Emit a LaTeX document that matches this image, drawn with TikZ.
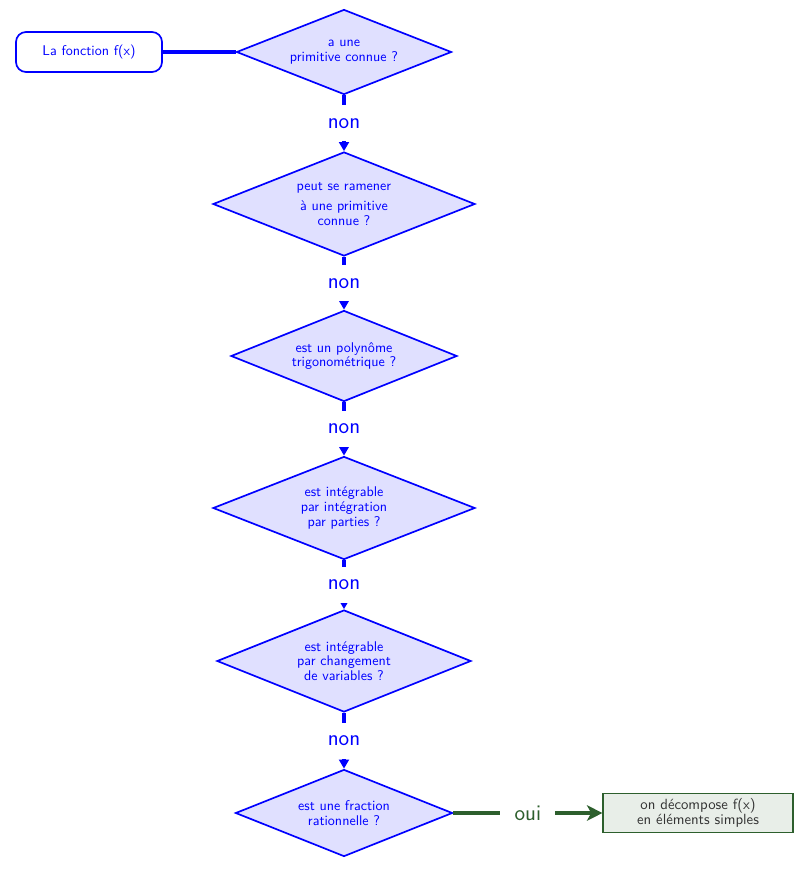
\documentclass[tikz,border=0pt]{standalone}
\usepackage{tikz}
\usepackage{xcolor}
\usetikzlibrary{shapes.geometric,arrows.meta}
\definecolor{lavande}{RGB}{224,224,255}
\definecolor{vertfonce}{RGB}{45,95,45}
\definecolor{vertclair}{RGB}{232,238,232}
\tikzset{
Losange/.style={
 diamond, 
 aspect=2.5, 
 draw=blue, 
 fill=lavande, 
 line width=1.2pt, 
 text=blue, 
 inner sep=0pt, 
 align=center, 
 font=\sffamily\fontsize{10}{10.5}\selectfont
 },
Depart/.style={
 draw=blue, 
 line width=1.2pt, 
 rounded corners=0.25cm, 
 text=blue, 
 minimum width=3.65cm, 
 minimum height=1cm, 
 font=\sffamily\fontsize{10}{12}\selectfont
 },
Resultat/.style={
 draw=vertfonce, 
 fill=vertclair, 
 line width=0.8pt, 
 text=black!80, 
 align=center, 
 minimum width=4.75cm, 
 minimum height=0.9cm, 
 font=\sffamily\fontsize{10.5}{11}\selectfont
 },
Lien/.style={
 draw=blue, 
 line width=2.4pt
 },
Fleche/.style={
 Lien, 
 -{Triangle[width=7pt,length=6.5pt]}
 },
OuiFleche/.style={
 draw=vertfonce, 
 line width=2.4pt, 
 -{Stealth[width=11pt,length=11pt,inset=3pt]}
 },
Etiquette/.style={
 fill=white, 
 text=#1, 
 inner sep=0pt, 
 minimum height=0.9cm, 
 minimum width=1.375cm, 
 font=\sffamily\fontsize{16}{19}\selectfont
 },
Etiquette/.default={blue}
}
\begin{document}
\begin{tikzpicture}
\useasboundingbox (0,0) rectangle (20,-21.725);
% les questions
\node[Depart] (depart) at (2.225,-1.3) {La fonction f(x)};
\node[Losange,minimum width=5.375cm,minimum height=2.125cm] (q1) at (8.6,-1.3) {a une\\ primitive connue~?};
\node[Losange,minimum width=6.55cm,minimum height=2.6cm] (q2) at (8.6,-5.1) {peut se ramener\\[4pt] à une primitive\\ connue~?};
\node[Losange,minimum width=5.65cm,minimum height=2.275cm] (q3) at (8.6,-8.9) {est un polynôme\\ trigonométrique~?};
\node[Losange,minimum width=6.55cm,minimum height=2.575cm] (q4) at (8.6,-12.7) {est intégrable\\ par intégration\\ par parties~?};
\node[Losange,minimum width=6.35cm,minimum height=2.55cm] (q5) at (8.6,-16.525) {est intégrable\\ par changement\\ de variables~?};
\node[Losange,minimum width=5.425cm,minimum height=2.175cm] (q6) at (8.6,-20.325) {est une fraction\\ rationnelle~?};
\node[Resultat] (fin) at (17.45,-20.325) {on décompose f(x)\\ en éléments simples};
% les liens
\draw[Lien] (depart) -- (q1);
\draw[Fleche] (q1) -- node[Etiquette] {non} (q2);
\draw[Fleche] (q2) -- node[Etiquette] {non} (q3);
\draw[Fleche] (q3) -- node[Etiquette] {non} (q4);
\draw[Fleche] (q4) -- node[Etiquette] {non} (q5);
\draw[Fleche] (q5) -- node[Etiquette] {non} (q6);
\draw[OuiFleche] (q6) -- node[Etiquette=vertfonce] {oui} (fin);
\end{tikzpicture}
\end{document}
